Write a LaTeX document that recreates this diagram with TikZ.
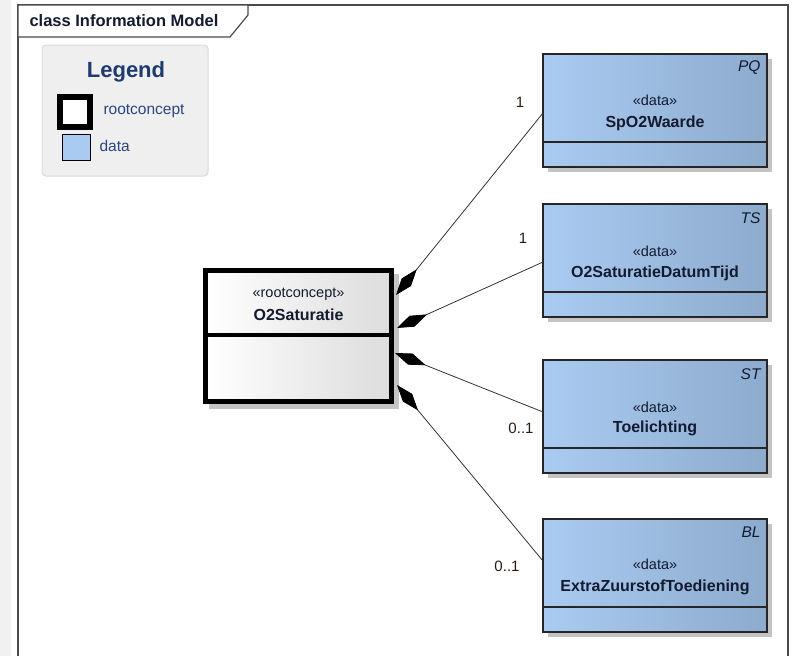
\documentclass[tikz,border=0pt]{standalone}
\usepackage{fontspec}
\setmainfont{Liberation Sans}
\usetikzlibrary{arrows.meta,calc,shadows}
\definecolor{frameC}{HTML}{4A4A4A}
\definecolor{stripC}{HTML}{F1F1F1}
\definecolor{legC}{HTML}{EFEFEF}
\definecolor{legB}{HTML}{DADADA}
\definecolor{legT}{HTML}{1E3A6E}
\definecolor{legI}{HTML}{2A4580}
\definecolor{dataA}{HTML}{AACBF1}
\definecolor{dataB}{HTML}{8CABCD}
\definecolor{rootR}{HTML}{DCDCDC}
\definecolor{shadowC}{HTML}{C4C4C4}
\definecolor{txtC}{HTML}{141A30}
\definecolor{lineC}{HTML}{333333}
\definecolor{multC}{HTML}{2A1A10}
\begin{document}
\begin{tikzpicture}[x=1pt,y=-1pt,
  databox/.style={draw=black!85, line width=1.3pt, left color=dataA, right color=dataB,
    minimum width=224pt, minimum height=113pt, outer sep=0pt, inner sep=0pt,
    drop shadow={shadow xshift=5pt,shadow yshift=-5pt,fill=shadowC,opacity=1}},
  stereo/.style={text=txtC, font=\fontsize{14.5}{16}\selectfont},
  cname/.style={text=txtC, font=\fontsize{16}{18}\selectfont\bfseries},
  tag/.style={anchor=east, text=txtC, font=\fontsize{15.5}{17}\selectfont\itshape},
  mult/.style={text=multC, font=\fontsize{15}{17}\selectfont},
  assoc/.style={draw=lineC, line width=0.8pt, {Diamond[length=33pt,width=12pt,color=black]}-},
  legitem/.style={anchor=west, text=legI, font=\fontsize{15.5}{17}\selectfont}
]
\useasboundingbox (0,0) rectangle (792,656);
% left strip
\fill[stripC] (0,0) rectangle (11,656);
% frame
\draw[frameC, line width=1.2pt] (18,656) -- (18,5) -- (788,5) -- (788,656);
\draw[frameC, line width=1.2pt, fill=white] (18,5) -- (248,5) -- (248,15) -- (230,37) -- (18,37) -- cycle;
\node[anchor=west, text=txtC, font=\fontsize{16.5}{18}\selectfont\bfseries] (title) at (26,21) {class Information Model};

% legend
\draw[rounded corners=4pt, fill=legC, draw=legB, line width=1pt] (42,45) rectangle (208,176);
\node[text=legT, font=\fontsize{22}{24}\selectfont\bfseries] (legtitle) at (126,72) {Legend};
\draw[line width=6pt, fill=white] (60,97) rectangle (90,127);
\node[legitem] (legroot) at (100,111) {rootconcept};
\draw[line width=1pt, fill=dataA] (62,134) rectangle (90,160);
\node[legitem] (legdata) at (96,146) {data};

% root concept
\fill[shadowC] (209,274) rectangle (399,409);
\node[draw, line width=5pt, left color=white, right color=rootR, minimum width=186pt,
  minimum height=131pt, outer sep=0pt, inner sep=0pt] (root) at (298.5,336) {};
\draw[line width=4pt] ($(root.north west)+(0,64.5)$) -- ($(root.north east)+(0,64.5)$);
\node[stereo] (rootst) at (298.5,294) {«rootconcept»};
\node[cname] (rootnm) at (298.5,315) {O2Saturatie};

% data boxes
\node[databox] (d1) at (655,110.5) {};
\node[databox] (d2) at (655,260.5) {};
\node[databox] (d3) at (655,416.5) {};
\node[databox] (d4) at (655,575.5) {};
\foreach \b in {d1,d2,d3,d4}{
  \draw[black!85, line width=1.3pt] ($(\b.south west)+(0,-25)$) -- ($(\b.south east)+(0,-25)$);
}
\node[tag] (t1) at (764,68) {PQ};
\node[stereo] (s1) at (655,100) {«data»};
\node[cname] (n1) at (655,123) {SpO2Waarde};
\node[tag] (t2) at (764,218) {TS};
\node[stereo] (s2) at (655,251) {«data»};
\node[cname] (n2) at (655,273) {O2SaturatieDatumTijd};
\node[tag] (t3) at (764,374) {ST};
\node[stereo] (s3) at (655,407) {«data»};
\node[cname] (n3) at (655,428) {Toelichting};
\node[tag] (t4) at (764,532) {BL};
\node[stereo] (s4) at (655,564) {«data»};
\node[cname] (n4) at (655,587) {ExtraZuurstofToediening};

% associations
\coordinate (r1) at (396,295);
\coordinate (r2) at (397,328);
\coordinate (r3) at (395,353);
\coordinate (r4) at (397,385);
\coordinate (e1) at ($(d1.north west)+(0,59)$);
\coordinate (e2) at ($(d2.north west)+(0,58)$);
\coordinate (e3) at ($(d3.north west)+(0,52)$);
\coordinate (e4) at ($(d4.north west)+(0,42)$);
\draw[assoc] (r1) -- (e1);
\draw[assoc] (r2) -- (e2);
\draw[assoc] (r3) -- (e3);
\draw[assoc] (r4) -- (e4);
\node[mult] (m1) at (520,102) {1};
\node[mult] (m2) at (523,238) {1};
\node[mult] (m3) at (521,428) {0..1};
\node[mult] (m4) at (507,566) {0..1};
\end{tikzpicture}
\end{document}
